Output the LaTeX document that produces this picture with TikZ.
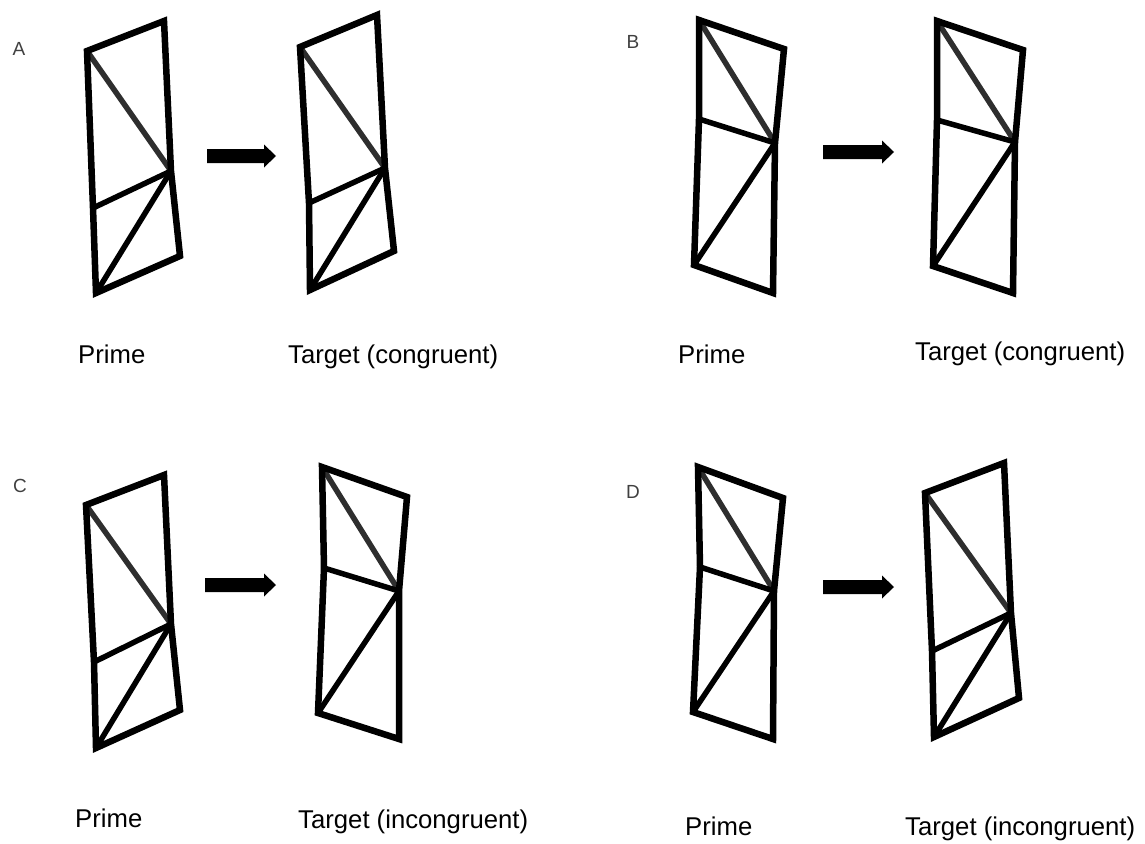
\documentclass[tikz,border=0pt]{standalone}
\usepackage{fontspec}
\setmainfont{Liberation Sans}
\usetikzlibrary{calc}

% outline and inner lines of one subdivided quadrilateral
% #1 name, #2 top-left, #3 top-right, #4 right-edge hub, #5 bottom-right, #6 bottom-left, #7 left-edge point
\newcommand{\trapfig}[7]{%
  \coordinate (#1-tl) at (#2);
  \coordinate (#1-tr) at (#3);
  \coordinate (#1-m)  at (#4);
  \coordinate (#1-br) at (#5);
  \coordinate (#1-bl) at (#6);
  \coordinate (#1-l)  at (#7);
  \draw[inner, diagcol] (#1-tl) -- (#1-m);
  \draw[inner] (#1-l) -- (#1-m);
  \draw[inner] (#1-m) -- (#1-bl);
  \draw[outline] (#1-tl) -- (#1-tr) -- (#1-m) -- (#1-br) -- (#1-bl) -- (#1-l) -- cycle;
}

% thick block arrow between two named points
\newcommand{\blockarrow}[2]{%
  \fill[black] (#2) -- ($(#2)+(-12,-11.5)$) -- ($(#2)+(-12,-7)$) -- ($(#1)+(0,-7)$)
    -- ($(#1)+(0,7)$) -- ($(#2)+(-12,7)$) -- ($(#2)+(-12,11.5)$) -- cycle;
}

\tikzset{
  outline/.style={line width=6.5pt, line join=miter, black},
  inner/.style={line width=5.5pt, line cap=butt, black},
  diagcol/.style={draw=black!82},
  caption/.style={anchor=base west, inner sep=0pt, font=\fontsize{25.7}{30}\selectfont},
  panelletter/.style={inner sep=0pt, text=black!75, font=\fontsize{19}{22}\selectfont},
}

\begin{document}
\begin{tikzpicture}[x=1pt, y=-1pt]
\useasboundingbox (0,0) rectangle (1145,843);

% panel A
\node[panelletter] (la) at (19,49) {A};
\trapfig{ap}{87,51}{164,21}{171,171}{180,256}{96,293}{93,208}
\trapfig{at}{300,47}{377,15}{385,168}{394,251}{310,290}{309,203}
\coordinate (aa1) at (207,156);
\coordinate (aa2) at (276,156);
\blockarrow{aa1}{aa2}
\node[caption] (apc) at (78,363) {Prime};
\node[caption] (atc) at (288,363) {Target (congruent)};

% panel B
\node[panelletter] (lb) at (633,42) {B};
\trapfig{bp}{699,20}{784,49}{775,143}{773,293}{694,265}{699,119}
\trapfig{bt}{937,21}{1023,50}{1015,142}{1013,293}{933,266}{937,120}
\coordinate (ba1) at (823,152);
\coordinate (ba2) at (894,152);
\blockarrow{ba1}{ba2}
\node[caption] (bpc) at (678,363) {Prime};
\node[caption] (btc) at (915,360) {Target (congruent)};

% panel C
\node[panelletter] (lc) at (20,486) {C};
\trapfig{cp}{86,505}{164,475}{171,624}{180,710}{96,748}{94,662}
\trapfig{ct}{322,467}{407,497}{399,591}{399,739}{318,713}{324,568}
\coordinate (ca1) at (205,585);
\coordinate (ca2) at (276,585);
\blockarrow{ca1}{ca2}
\node[caption] (cpc) at (75,827) {Prime};
\node[caption] (ctc) at (298,828) {Target (incongruent)};

% panel D
\node[panelletter] (ld) at (633,492) {D};
\trapfig{dp}{698,467}{783,498}{774,591}{773,739}{693,712}{700,567}
\trapfig{dt}{925,493}{1004,463}{1011,613}{1019,698}{934,737}{932,651}
\coordinate (da1) at (823,587);
\coordinate (da2) at (894,587);
\blockarrow{da1}{da2}
\node[caption] (dpc) at (685,835) {Prime};
\node[caption] (dtc) at (905,835) {Target (incongruent)};
\end{tikzpicture}
\end{document}
